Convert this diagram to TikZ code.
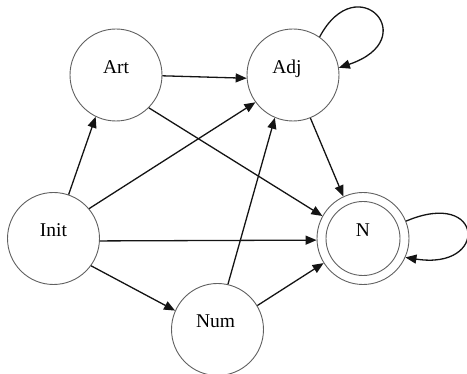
\documentclass[tikz,border=0pt]{standalone}
\usepackage{fontspec}
\setmainfont{Liberation Serif}
\usetikzlibrary{arrows.meta}
\begin{document}
\begin{tikzpicture}[x=1pt,y=1pt,
  state/.style={circle,draw=black!62,line width=0.9pt,minimum size=92pt,inner sep=0pt,
    font=\fontsize{19.5}{22}\selectfont},
  edge/.style={draw=black!92,line width=1.3pt,-{Triangle[length=11pt,width=9pt]}}]
\useasboundingbox (0,0) rectangle (467,-374);
\node[state] (art)  at (116,-75)     {\raisebox{1.7pt}[0pt][0pt]{Art}};
\node[state] (adj)  at (293,-75)     {\raisebox{1.7pt}[0pt][0pt]{Adj\kern12pt}};
\node[state] (init) at (53.5,-238.5) {\raisebox{1.7pt}[0pt][0pt]{Init}};
\node[state] (num)  at (217.5,-329.5){\raisebox{1.7pt}[0pt][0pt]{Num\kern4pt}};
\node[state] (n)    at (363,-238.5)  {\raisebox{1.7pt}[0pt][0pt]{N}};
\node[state,minimum size=74pt] (ninner) at (n.center) {};
\draw[edge] (art.-1) -- (adj.184);
\draw[edge] (init.71.6) -- (art.244.5);
\draw[edge] (init.40) -- (adj.216.4);
\draw[edge] (art.-45) -- (n.151.4);
\draw[edge] (init.-3) -- (n.182);
\draw[edge] (init.-36.5) -- (num.156.5);
\draw[edge] (num.77.3) -- (adj.247.4);
\draw[edge] (num.31) -- (n.212.7);
\draw[edge] (adj.-68.1) -- (n.115.5);
\draw[edge] (adj.55.6) .. controls +(62:80) and +(18.5:90) .. (adj.9.7);
\draw[edge] (n.22.5) .. controls +(23:85) and +(-9:85) .. (n.-24.7);
\end{tikzpicture}
\end{document}
